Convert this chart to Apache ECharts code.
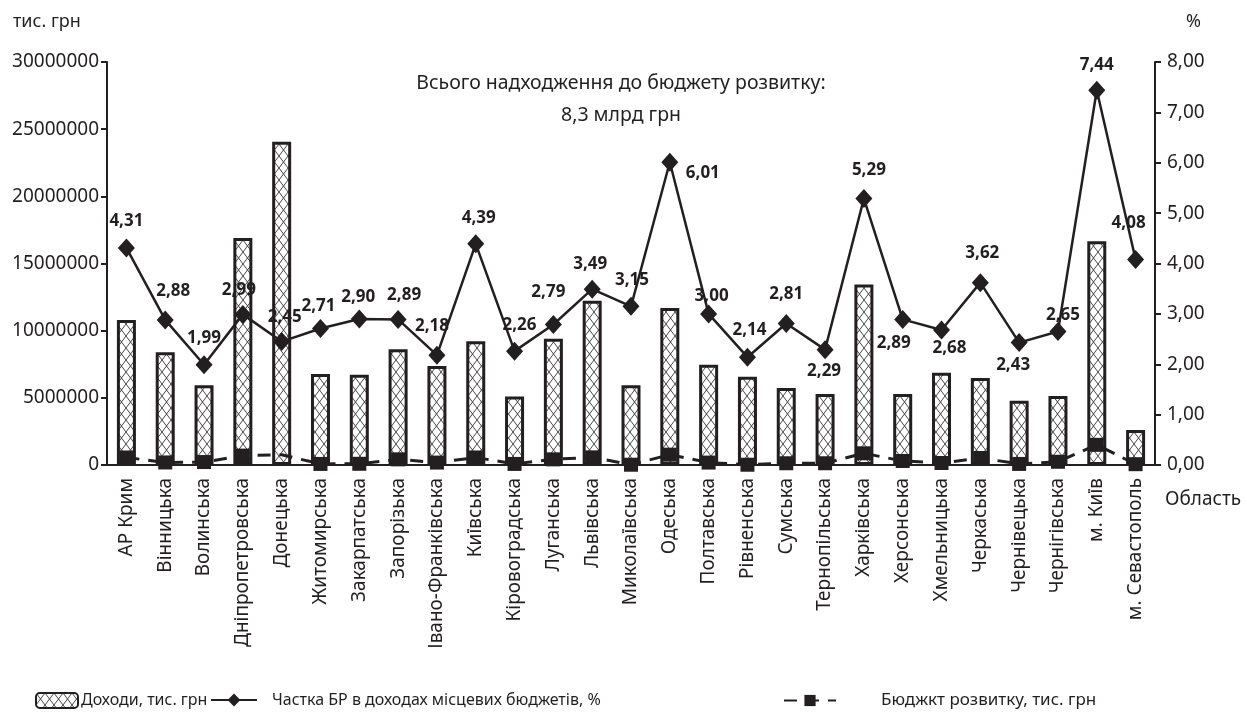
<!DOCTYPE html>
<html>
<head>
<meta charset="utf-8">
<script src="https://cdn.jsdelivr.net/npm/echarts@6/dist/echarts.min.js"></script>
<style>
html,body{margin:0;padding:0;background:#fff;}
#chart{width:1247px;height:715px;}
</style>
</head>
<body>
<div id="chart"></div>
<script>
// ---- data ----
const categories = ['АР Крим','Вінницька','Волинська','Дніпропетровська','Донецька','Житомирська','Закарпатська','Запорізька','Івано-Франківська','Київська','Кіровоградська','Луганська','Львівська','Миколаївська','Одеська','Полтавська','Рівненська','Сумська','Тернопільська','Харківська','Херсонська','Хмельницька','Черкаська','Чернівецька','Чернігівська','м. Київ','м. Севастополь'];
const income = [10800000, 8400000, 5930000, 16900000, 24070000, 6780000, 6720000, 8610000, 7370000, 9210000, 5090000, 9400000, 12230000, 5930000, 11690000, 7470000, 6570000, 5730000, 5290000, 13430000, 5290000, 6870000, 6480000, 4790000, 5140000, 16660000, 2610000];
const sharePct = [4.31, 2.88, 1.99, 2.99, 2.45, 2.71, 2.90, 2.89, 2.18, 4.39, 2.26, 2.79, 3.49, 3.15, 6.01, 3.00, 2.14, 2.81, 2.29, 5.29, 2.89, 2.68, 3.62, 2.43, 2.65, 7.44, 4.08];
const devBudget = [560000, 190000, 220000, 700000, 760000, 80000, 90000, 420000, 180000, 560000, 80000, 420000, 570000, 20000, 770000, 180000, 20000, 130000, 130000, 870000, 300000, 150000, 520000, 80000, 240000, 1500000, 60000];
const leftTicks = [0, 5000000, 10000000, 15000000, 20000000, 25000000, 30000000];
const rightTicks = [0, 1, 2, 3, 4, 5, 6, 7, 8];
// label offsets (label centre relative to point), px
const labelOffsets = [[0,-27],[8,-29],[0,-27],[-4,-24],[3,-24],[-2,-22],[-1,-22],[6,-24],[-5,-29],[3,-26],[5,-26],[-5,-32],[-2,-25],[1,-26],[33,11],[3,-18],[2,-27],[0,-29],[-1,22],[5,-28],[-9,24],[8,18],[2,-29],[-6,23],[5,-16],[0,-25],[-7,-36]];

const INK = '#231f20';
const FONT = 'Noto Sans';

function makeHatch(){
  const c = document.createElement('canvas');
  c.width = 9; c.height = 12;
  const g = c.getContext('2d');
  g.fillStyle = '#fff'; g.fillRect(0,0,9,12);
  g.strokeStyle = '#333'; g.lineWidth = 0.9;
  g.beginPath();
  g.moveTo(0,0); g.lineTo(9,12);
  g.moveTo(9,0); g.lineTo(0,12);
  g.stroke();
  return c;
}
const hatch = makeHatch();

const chart = echarts.init(document.getElementById('chart'), null, {renderer:'canvas'});

const pctData = sharePct.map((v,i)=>({value:v, label:{offset: labelOffsets[i]}}));
const devData = devBudget.map((v,i)=> i===4 ? {value:v, symbol:'none'} : v);

chart.setOption({
  animation:false,
  backgroundColor:'#fff',
  textStyle:{fontFamily:FONT, color:INK},
  title:{
    text:'Всього надходження до бюджету розвитку:\n8,3 млрд грн',
    left:616, top:62, textAlign:'center',
    textStyle:{fontFamily:FONT, fontSize:19.5, fontWeight:'normal', color:INK, lineHeight:32}
  },
  grid:{left:107, right:92, top:62, bottom:250, containLabel:false},
  legend:[
    {data:[{name:'Доходи, тис. грн'}], left:30, top:687, itemWidth:42, itemHeight:15, itemGap:10,
     textStyle:{fontFamily:FONT, fontSize:16, color:INK, padding:[0,0,0,-2]}},
    {data:[{name:'Частка БР в доходах місцевих бюджетів, %'}], left:205, top:687, itemWidth:46, itemHeight:16,
     textStyle:{fontFamily:FONT, fontSize:16, color:INK, padding:[0,0,0,10]}},
    {data:[{name:'Бюджкт розвитку, тис. грн'}], left:778, top:687, itemWidth:52, itemHeight:14,
     textStyle:{fontFamily:FONT, fontSize:17, color:INK, padding:[0,0,0,40]}}
  ],
  xAxis:{
    type:'category', data:categories,
    axisLine:{lineStyle:{color:INK, width:2}},
    axisTick:{show:false},
    axisLabel:{rotate:90, interval:0, margin:13, fontFamily:FONT, fontSize:19, color:INK}
  },
  yAxis:[
    {type:'value', min:leftTicks[0], max:leftTicks[leftTicks.length-1], interval:5000000, position:'left',
     axisLine:{show:true, lineStyle:{color:INK, width:2}},
     axisTick:{show:true, length:6, lineStyle:{color:INK, width:2}},
     splitLine:{show:false},
     axisLabel:{margin:8, fontFamily:FONT, fontSize:19, color:INK, formatter:v=>String(v)}},
    {type:'value', min:rightTicks[0], max:rightTicks[rightTicks.length-1], interval:1, position:'right',
     axisLine:{show:true, lineStyle:{color:INK, width:2}},
     axisTick:{show:true, length:6, lineStyle:{color:INK, width:2}},
     splitLine:{show:false},
     axisLabel:{margin:12, fontFamily:FONT, fontSize:19, color:INK, formatter:v=>v.toFixed(2).replace('.',',')}}
  ],
  graphic:[
    {type:'text', left:13, top:13, style:{text:'тис. грн', font:'18px "Noto Sans"', fill:INK}},
    {type:'text', left:1186, top:13, style:{text:'%', font:'18px "Noto Sans"', fill:INK}},
    {type:'text', left:1165, top:490, style:{text:'Область', font:'19px "Noto Sans"', fill:INK}}
  ],
  series:[
    {name:'Доходи, тис. грн', type:'bar', yAxisIndex:0, data:income, barWidth:19,
     itemStyle:{color:{image:hatch, repeat:'repeat'}, borderColor:INK, borderWidth:3}, z:1},
    {name:'Бюджкт розвитку, тис. грн', type:'line', yAxisIndex:0, data:devData,
     symbol:'rect', symbolSize:14, color:INK,
     lineStyle:{color:INK, width:3, type:[13,9]}, itemStyle:{color:INK}, z:3},
    {name:'Частка БР в доходах місцевих бюджетів, %', type:'line', yAxisIndex:1, data:pctData,
     symbol:'diamond', symbolSize:[17,19], color:INK,
     lineStyle:{color:INK, width:2.5}, itemStyle:{color:INK},
     label:{show:true, position:'inside', fontFamily:FONT, fontSize:17, fontWeight:'bold', color:INK,
            formatter:p=>p.value.toFixed(2).replace('.',',')}, z:4}
  ]
});
</script>
</body>
</html>
